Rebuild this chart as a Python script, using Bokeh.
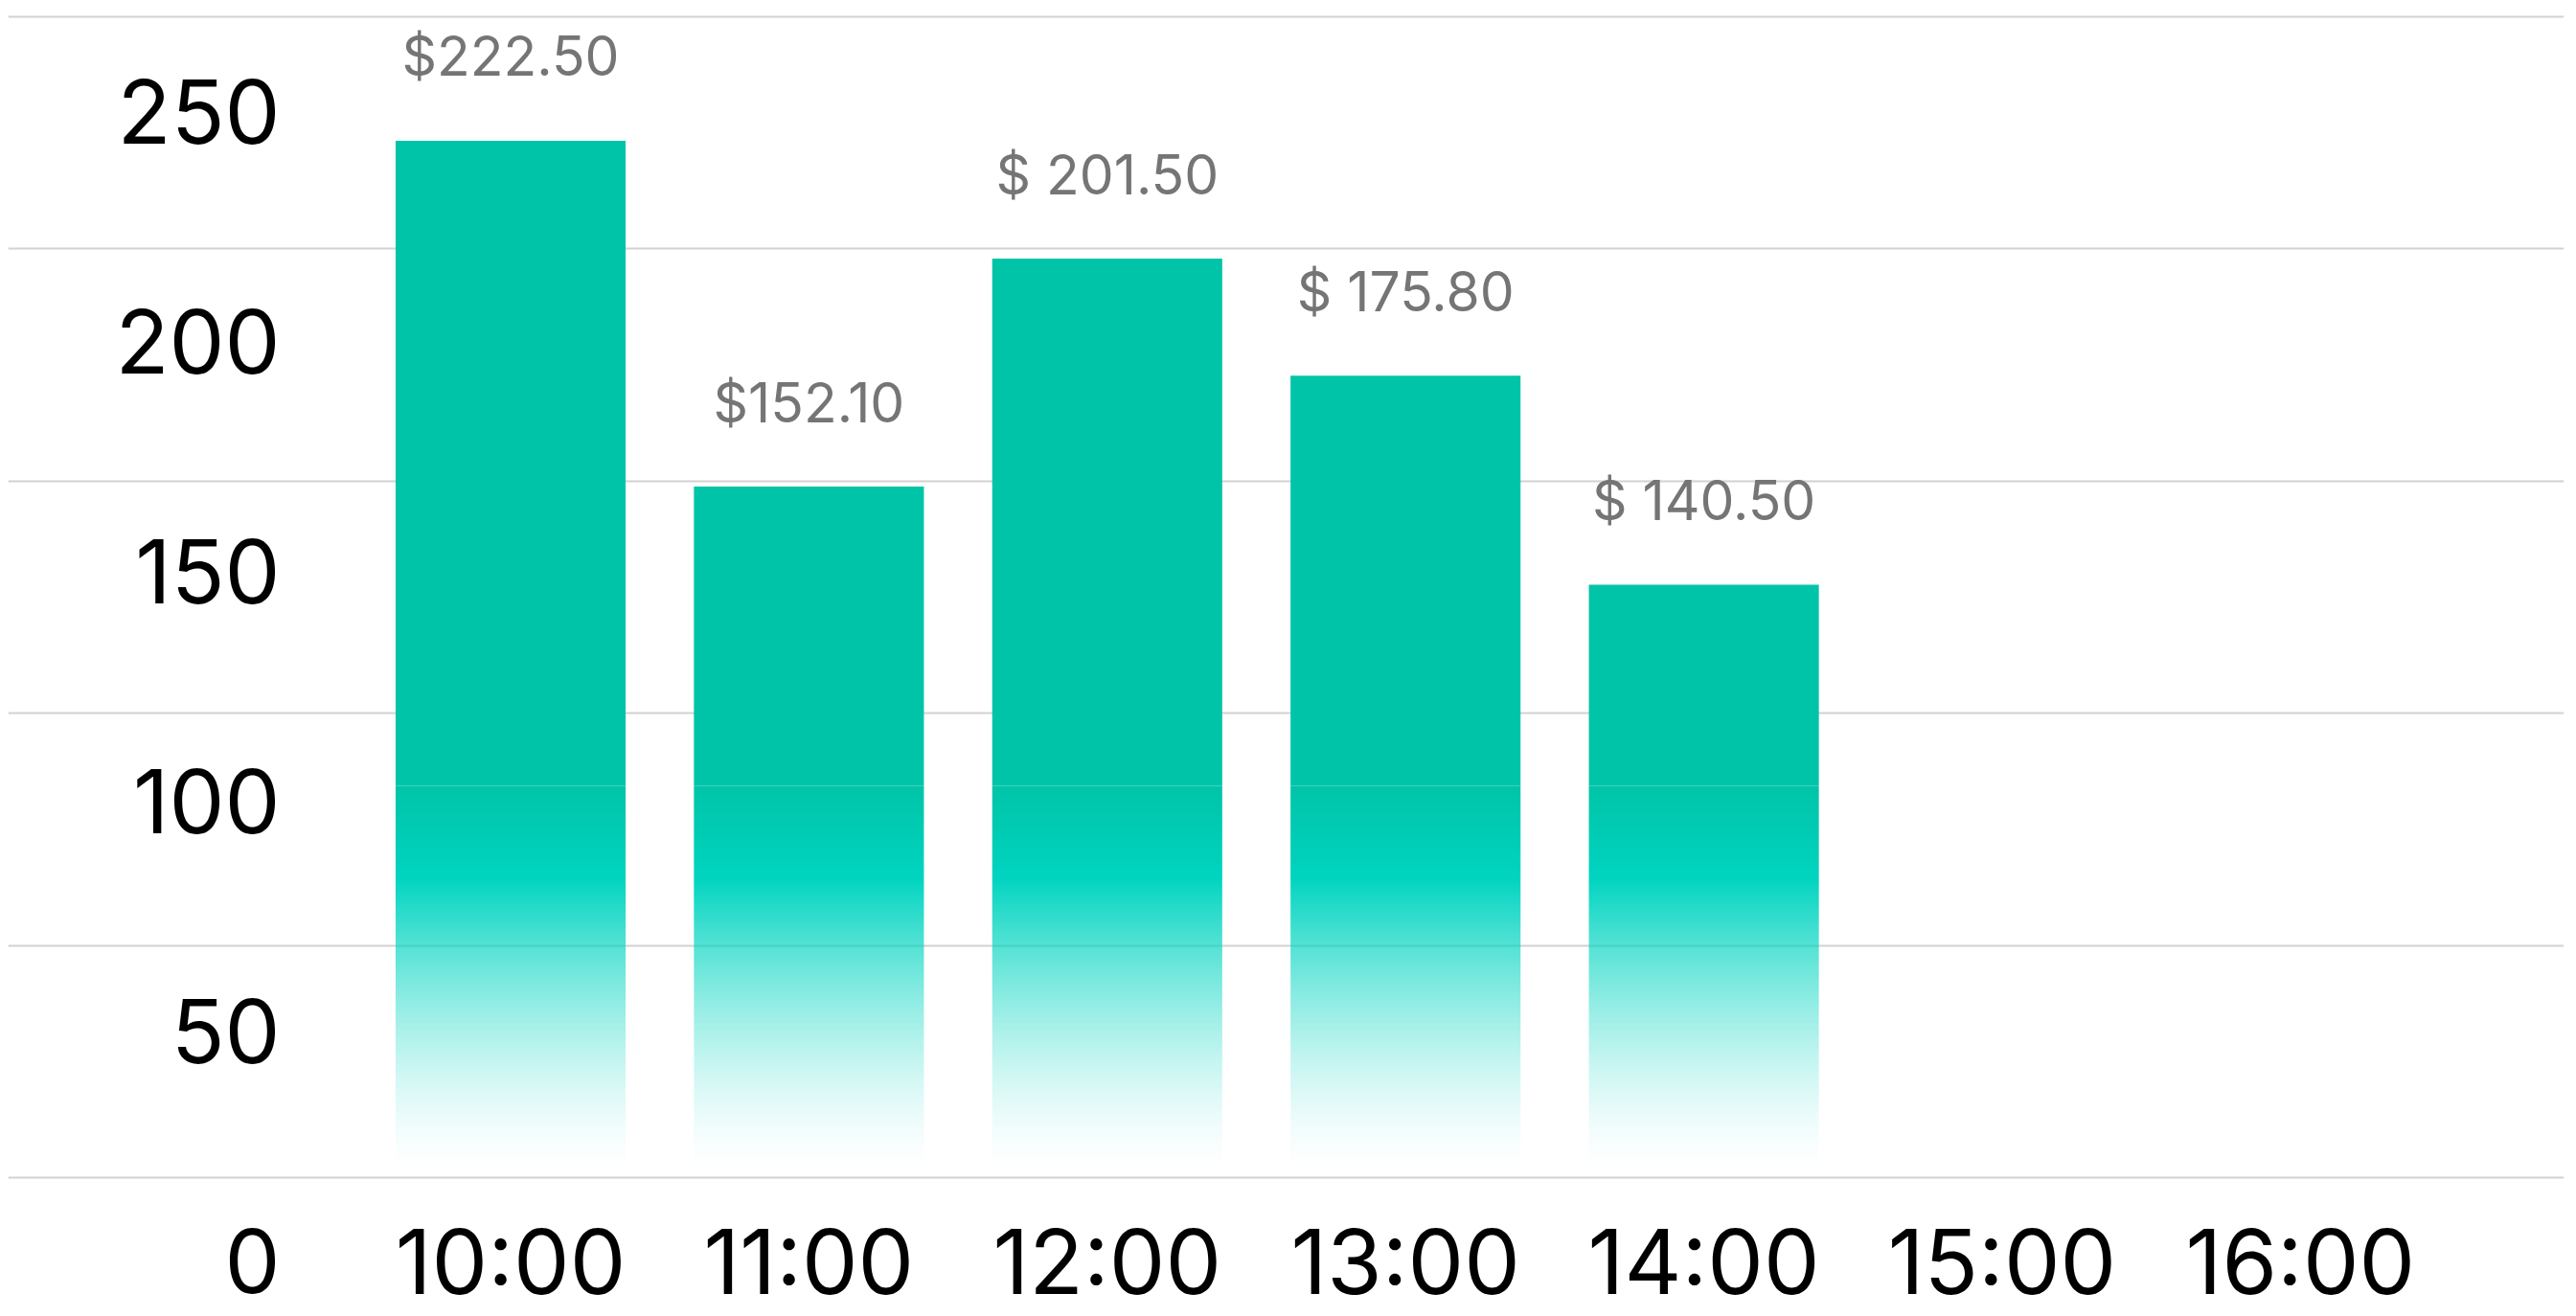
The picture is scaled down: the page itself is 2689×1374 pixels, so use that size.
import numpy as np
from bokeh.plotting import figure
from bokeh.models import Range1d, FixedTicker, ColumnDataSource
from bokeh.core.properties import value
from bokeh.embed import file_html
from bokeh.resources import INLINE

# ---------------- data ----------------
categories = ["10:00", "11:00", "12:00", "13:00", "14:00", "15:00", "16:00"]
bar_values = [223.3, 148.8, 197.9, 172.7, 127.7]          # bar heights
bar_labels = ["$222.50", "$152.10", "$ 201.50", "$ 175.80", "$ 140.50"]
y_ticks = [0, 50, 100, 150, 200, 250]
y_tick_labels = ["0", "50", "100", "150", "200", "250"]

# ---------------- style / layout ----------------
FONT = "Inter"
DARK = (0, 196, 168)
BRIGHT = (0, 212, 192)
BAR_W = 0.771
GRAD_TOP = 84.4      # solid colour above, gradient below
BRIGHT_AT = 64.4     # fully bright teal here, fading to transparent below
FADE_END = 1.4
YLAB_X = -0.772      # right edge of the value-axis labels (x units)

idx = list(range(len(categories)))
bar_x = idx[:len(bar_values)]

p = figure(frame_width=2668, height=1374,
           x_range=Range1d(-1.6843, 6.8834), y_range=Range1d(-29.909, 251.856),
           output_backend="svg", toolbar_location=None,
           x_axis_location=None, y_axis_location=None,
           min_border=0, min_border_left=8, min_border_right=13,
           min_border_top=8, min_border_bottom=0)
p.outline_line_color = None
p.background_fill_color = "white"
p.border_fill_color = "white"
# scale used by the tick-label row/column (labels sit between the grid lines)
p.extra_y_ranges = {"ylab": Range1d(-11.98, 272.6)}

# grid
p.xgrid.visible = False
p.ygrid.ticker = FixedTicker(ticks=y_ticks)
p.ygrid.grid_line_color = "#d2d2d2"
p.ygrid.grid_line_width = 2

# ---- bars: solid upper part ----
src = ColumnDataSource(dict(x=bar_x, top=bar_values, label=bar_labels,
                            bottom=[GRAD_TOP] * len(bar_values)))
p.vbar(x="x", top="top", bottom="bottom", width=BAR_W, source=src,
       fill_color="#%02x%02x%02x" % DARK, line_color=None)

# ---- bars: gradient lower part (image) ----
N = 430
img = np.zeros((N, 2), dtype=np.uint32)
view = img.view(dtype=np.uint8).reshape((N, 2, 4))
for r in range(N):
    yv = (r + 0.5) / N * GRAD_TOP
    if yv >= BRIGHT_AT:
        t = (yv - BRIGHT_AT) / (GRAD_TOP - BRIGHT_AT)
        c = [BRIGHT[k] * (1 - t) + DARK[k] * t for k in range(3)]
        a = 1.0
    else:
        c = list(BRIGHT)
        a = max(0.0, (yv - FADE_END) / (BRIGHT_AT - FADE_END)) ** 1.5
    view[r, :, 0] = int(round(c[0]))
    view[r, :, 1] = int(round(c[1]))
    view[r, :, 2] = int(round(c[2]))
    view[r, :, 3] = int(round(a * 255))
p.image_rgba(image=[img] * len(bar_x), x=[x - BAR_W / 2 for x in bar_x],
             y=[0] * len(bar_x), dw=[BAR_W] * len(bar_x), dh=[GRAD_TOP] * len(bar_x))

# ---- value labels above bars ----
p.text(x="x", y="top", text="label", source=src, y_offset=-88,
       text_align="center", text_baseline="middle",
       text_font=value(FONT), text_font_size="57px", text_color="#757575")

# ---- value-axis tick labels ----
ylab_src = ColumnDataSource(dict(y=y_ticks, t=y_tick_labels, x=[YLAB_X] * len(y_ticks)))
p.text(x="x", y="y", text="t", source=ylab_src, y_range_name="ylab",
       text_align="right", text_baseline="middle",
       text_font=value(FONT), text_font_size="92px", text_color="#000000")

# ---- category tick labels (same row as the "0") ----
xlab_src = ColumnDataSource(dict(x=idx, y=[y_ticks[0]] * len(idx), t=categories))
p.text(x="x", y="y", text="t", source=xlab_src, y_range_name="ylab",
       text_align="center", text_baseline="middle",
       text_font=value(FONT), text_font_size="93px", text_color="#000000")

open("out.html", "w").write(file_html(p, INLINE))
